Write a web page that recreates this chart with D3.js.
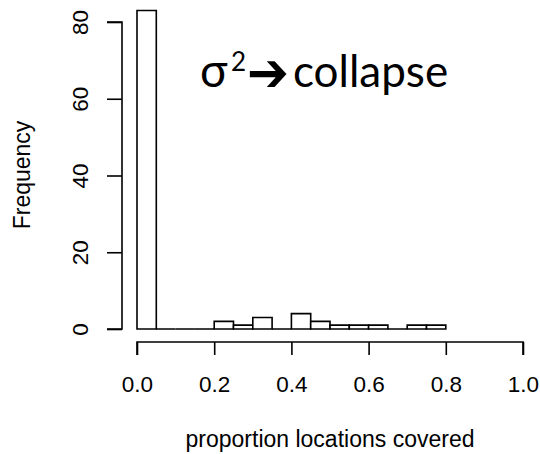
<!DOCTYPE html>
<html>
<head>
<meta charset="utf-8">
<script src="https://cdn.jsdelivr.net/npm/d3@7"></script>
<style>
  body { margin: 0; background: #fff; }
  svg { display: block; }
</style>
</head>
<body>
<div id="chart"></div>
<script>
// histogram bins (left edges) and counts
const binStarts = [0, 0.05, 0.1, 0.15, 0.2, 0.25, 0.3, 0.35, 0.4, 0.45, 0.5, 0.55, 0.6, 0.65, 0.7, 0.75];
const counts    = [83, 0, 0, 0, 2, 1, 3, 0, 4, 2, 1, 1, 1, 0, 1, 1];
const binWidth = 0.05;
const xTicks = [0, 0.2, 0.4, 0.6, 0.8, 1.0];
const yTicks = [0, 20, 40, 60, 80];

const width = 540, height = 454;

const svg = d3.select("#chart")
  .append("svg")
    .attr("width", width)
    .attr("height", height);

const x = d3.scaleLinear().domain([0, 1]).range([137, 523]);
const y = d3.scaleLinear().domain([0, 80]).range([329, 22]);

const font = "Liberation Sans, Arial, Helvetica, sans-serif";

// bars (path so empty bins still show as a line on the baseline)
svg.selectAll("path.bar")
  .data(binStarts.map((b, i) => ({ x0: b, n: counts[i] })))
  .join("path")
    .attr("class", "bar")
    .attr("d", d => `M${x(d.x0)},${y(0)}V${y(d.n)}H${x(d.x0 + binWidth)}V${y(0)}Z`)
    .attr("fill", "#fff")
    .attr("stroke", "#000")
    .attr("stroke-width", 1.6);

// x axis
const xAxis = svg.append("g")
  .attr("transform", "translate(0,342)")
  .call(d3.axisBottom(x).tickValues(xTicks).tickSize(13)
    .tickFormat(d3.format(".1f")));
xAxis.select(".domain").attr("d", `M${x(0)},13V0H${x(1)}V13`).attr("stroke-width", 1.6);
xAxis.selectAll(".tick line").attr("stroke-width", 1.6);
xAxis.selectAll("text")
  .attr("font-family", font).attr("font-size", 22.5).attr("fill", "#000")
  .attr("y", 50).attr("dy", null);

// y axis
const yAxis = svg.append("g")
  .attr("transform", "translate(122,0)")
  .call(d3.axisLeft(y).tickValues(yTicks).tickSize(15).tickPadding(0));
yAxis.select(".domain").attr("d", `M-15,${y(0)}H0V${y(80)}H-15`).attr("stroke-width", 1.6);
yAxis.selectAll(".tick line").attr("stroke-width", 1.6);
yAxis.selectAll("text")
  .attr("font-family", font).attr("font-size", 22.5).attr("fill", "#000")
  .attr("x", null).attr("dy", null)
  .attr("text-anchor", "middle")
  .attr("transform", "translate(-34,0) rotate(-90)");

// axis titles
svg.append("text")
  .attr("x", 330).attr("y", 447)
  .attr("text-anchor", "middle")
  .attr("font-family", font).attr("font-size", 23)
  .text("proportion locations covered");

svg.append("text")
  .attr("transform", "translate(30,175) rotate(-90)")
  .attr("text-anchor", "middle")
  .attr("font-family", font).attr("font-size", 23)
  .text("Frequency");

// annotation
const noteFont = "Lato, Open Sans, sans-serif";
svg.append("text")
  .attr("x", 200).attr("y", 87)
  .attr("font-family", noteFont).attr("font-size", 46)
  .text("σ");
svg.append("text")
  .attr("x", 231).attr("y", 71)
  .attr("font-family", noteFont).attr("font-size", 26)
  .text("2");
svg.append("text")
  .attr("x", 247).attr("y", 91)
  .attr("font-family", "DejaVu Sans").attr("font-weight", "bold").attr("font-size", 54)
  .attr("textLength", 42).attr("lengthAdjust", "spacingAndGlyphs")
  .text("➔");
svg.append("text")
  .attr("x", 293).attr("y", 87)
  .attr("font-family", noteFont).attr("font-size", 44)
  .text("collapse");
</script>
</body>
</html>
